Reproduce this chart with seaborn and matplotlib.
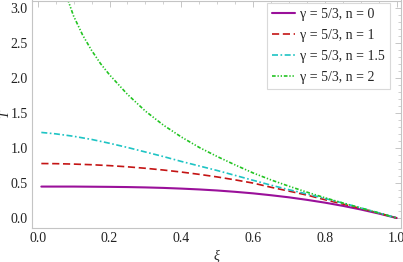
import pandas as pd
import seaborn as sns
import matplotlib
matplotlib.use("Agg")
import matplotlib.pyplot as plt

# ----------------------------------
# Data
# ----------------------------------
labels = ["γ = 5/3, n = 0", "γ = 5/3, n = 1", "γ = 5/3, n = 1.5", "γ = 5/3, n = 2"]

xi_common = [0.01, 0.05, 0.1, 0.15, 0.2, 0.25, 0.3, 0.35, 0.4, 0.45, 0.5,
             0.55, 0.6, 0.65, 0.7, 0.75, 0.8, 0.85, 0.9, 0.95, 1.0]
T_n0 = [0.450, 0.450, 0.450, 0.448, 0.446, 0.443, 0.438, 0.431, 0.421, 0.409, 0.394,
        0.375, 0.353, 0.326, 0.296, 0.260, 0.220, 0.174, 0.122, 0.064, 0.0]
T_n1 = [0.780, 0.778, 0.772, 0.763, 0.750, 0.733, 0.712, 0.687, 0.658, 0.625, 0.588,
        0.546, 0.500, 0.440, 0.385, 0.328, 0.262, 0.200, 0.137, 0.070, 0.0]
T_n15 = [1.225, 1.205, 1.170, 1.125, 1.070, 1.010, 0.945, 0.880, 0.810, 0.745, 0.680,
         0.610, 0.540, 0.470, 0.405, 0.345, 0.280, 0.215, 0.145, 0.074, 0.0]

xi_n2 = [0.06, 0.08, 0.1, 0.125, 0.15, 0.175, 0.2, 0.25, 0.3, 0.35, 0.4, 0.45, 0.5,
         0.55, 0.6, 0.65, 0.7, 0.75, 0.8, 0.85, 0.9, 0.95, 1.0]
T_n2 = [3.55, 3.18, 2.89, 2.62, 2.40, 2.21, 2.05, 1.77, 1.53, 1.33, 1.16, 1.01, 0.88,
        0.76, 0.645, 0.545, 0.455, 0.37, 0.29, 0.215, 0.143, 0.072, 0.0]

frames = [
    pd.DataFrame({"xi": xi_common, "T": T_n0, "curve": labels[0]}),
    pd.DataFrame({"xi": xi_common, "T": T_n1, "curve": labels[1]}),
    pd.DataFrame({"xi": xi_common, "T": T_n15, "curve": labels[2]}),
    pd.DataFrame({"xi": xi_n2, "T": T_n2, "curve": labels[3]}),
]
df = pd.concat(frames, ignore_index=True)

colors = ["#9a109a", "#c41414", "#1ec4c4", "#22c422"]
dashes = ["", (4.3, 2.2), (3.6, 1.5, 1.0, 1.5), (2.2, 1.1, 0.8, 1.1, 0.8, 1.1)]

# ----------------------------------
# Plot
# ----------------------------------
sns.set_style("white")
plt.rcParams["font.family"] = ["Liberation Serif", "DejaVu Serif"]

fig = plt.figure(figsize=(4.03, 2.62), dpi=100)
ax = fig.add_axes([32 / 403, 34 / 262, 369 / 403, 227.5 / 262])

sns.lineplot(data=df, x="xi", y="T", hue="curve", style="curve",
             palette=dict(zip(labels, colors)), dashes=dict(zip(labels, dashes)),
             hue_order=labels, style_order=labels, sort=False,
             linewidth=1.2, ax=ax)
ax.lines[0].set_linewidth(1.5)

ax.set_xlim(-0.016, 1.012)
ax.set_ylim(-0.143, 3.114)
ax.set_xticks([0.0, 0.2, 0.4, 0.6, 0.8, 1.0])
ax.set_xticklabels(["0.0", "0.2", "0.4", "0.6", "0.8", "1.0"])
ax.set_xticks([i * 0.05 for i in range(21)], minor=True)
ax.set_yticks([0.0, 0.5, 1.0, 1.5, 2.0, 2.5, 3.0])
ax.set_yticklabels(["0.0", "0.5", "1.0", "1.5", "2.0", "2.5", "3.0"])
ax.set_yticks([i * 0.1 for i in range(32)], minor=True)

ax.tick_params(which="both", direction="in", top=True, right=True,
               color="#bdbdbd", labelsize=10, labelcolor="#222222", pad=3)
ax.tick_params(which="major", length=4, width=0.6)
ax.tick_params(which="minor", length=2, width=0.5)
for s in ax.spines.values():
    s.set_color("#c4c4c4")
    s.set_linewidth(0.8)

ax.set_xlabel("ξ", fontstyle="italic", fontsize=10, labelpad=3)
ax.set_ylabel("T", fontstyle="italic", fontsize=10)
ax.yaxis.set_label_coords(-0.057, 0.5)

leg = ax.legend(loc="upper right", bbox_to_anchor=(0.970, 0.987), borderaxespad=0,
                fontsize=10, frameon=True, fancybox=False, framealpha=1,
                edgecolor="#d9d9d9", handlelength=1.7, handletextpad=0.36,
                labelspacing=0.56, borderpad=0.35, title=None)
leg.get_frame().set_linewidth(0.8)
for h, lw in zip(leg.get_lines(), [1.5, 1.2, 1.2, 1.2]):
    h.set_linewidth(lw)

fig.savefig("out.png", dpi=100)
